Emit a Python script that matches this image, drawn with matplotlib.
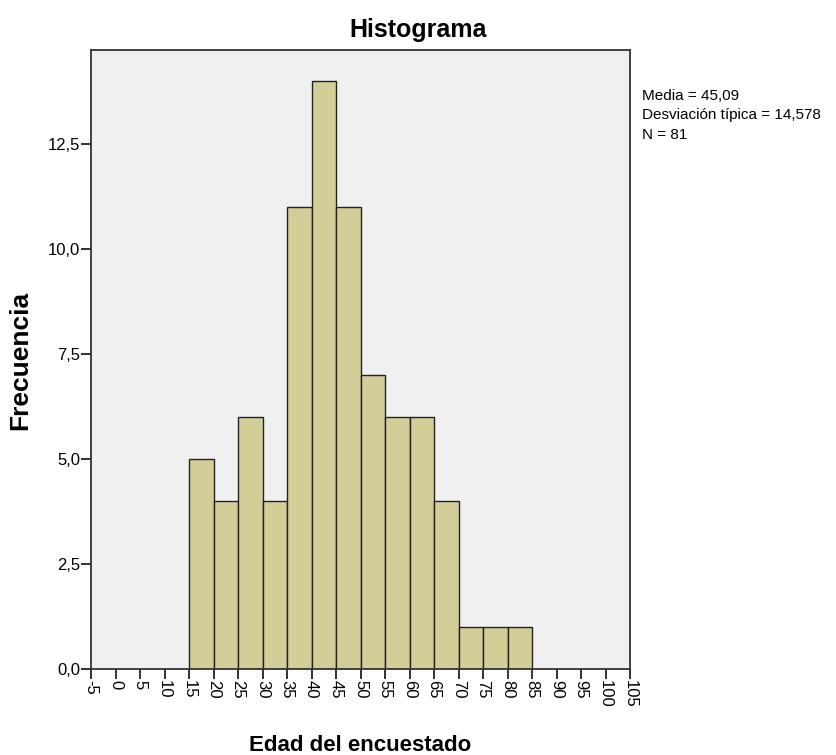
import numpy as np
import matplotlib.pyplot as plt

plt.rcParams['font.family'] = ['Liberation Sans', 'DejaVu Sans']

# Histogram bins (edad) and counts
bin_edges = [15, 20, 25, 30, 35, 40, 45, 50, 55, 60, 65, 70, 75, 80, 85]
counts = [5, 4, 6, 4, 11, 14, 11, 7, 6, 6, 4, 1, 1, 1]
x_ticks = list(range(-5, 110, 5))
y_ticks = [0.0, 2.5, 5.0, 7.5, 10.0, 12.5]
stats_text = "Media = 45,09\nDesviación típica = 14,578\nN = 81"

fig = plt.figure(figsize=(8.36, 7.55), dpi=100)
ax = fig.add_axes([0.1089, 0.1139, 0.6447, 0.8199])
ax.set_facecolor('#f0f0f0')

lefts = np.array(bin_edges[:-1])
widths = np.diff(bin_edges)
ax.bar(lefts, counts, width=widths, align='edge', color='#d3ce98',
       edgecolor='#222222', linewidth=1.0)

ax.set_xlim(-5, 105)
ax.set_ylim(0, 14.75)
ax.set_xticks(x_ticks)
ax.set_xticklabels([str(t) for t in x_ticks], rotation=270, fontsize=12)
ax.set_yticks(y_ticks)
ax.set_yticklabels([f"{v:.1f}".replace('.', ',') for v in y_ticks], fontsize=12)
ax.tick_params(direction='out', length=7, width=1.3, color='#222222', pad=1)
for s in ax.spines.values():
    s.set_linewidth(1.3)
    s.set_color('#333333')

# SPSS centres the title on the whole chart, not the plot area
ax.set_title("Histograma", fontsize=18, fontweight='bold', pad=9, x=0.6067)
ax.set_xlabel("Edad del encuestado", fontsize=16, fontweight='bold')
ax.set_ylabel("Frecuencia", fontsize=19, fontweight='bold')
ax.xaxis.set_label_coords(0.499, -0.1066)
ax.yaxis.set_label_coords(-0.1095, 0.499)

fig.text(642 / 836, 1 - 89 / 755, stats_text, fontsize=11, va='top',
         ha='left', linespacing=1.5)

fig.savefig("out.png", dpi=100)
